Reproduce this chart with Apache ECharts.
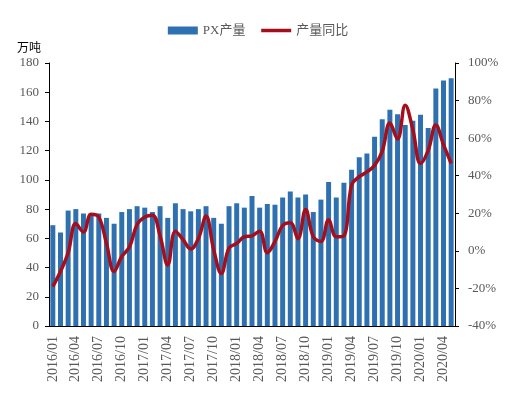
<!DOCTYPE html>
<html lang="zh">
<head>
  <meta charset="UTF-8">
  <script src="https://cdn.jsdelivr.net/npm/echarts@6.0.0/dist/echarts.min.js"></script>
  <style>
    html, body { margin: 0; padding: 0; background: #fff; }
  </style>
</head>
<body>
  <div id="main" style="width: 516px;height:404px;"></div>
  <script type="text/javascript">

    // 月份
    let months = [
      '2016/01', '2016/02', '2016/03', '2016/04', '2016/05', '2016/06', '2016/07', '2016/08', '2016/09', '2016/10', '2016/11', '2016/12',
      '2017/01', '2017/02', '2017/03', '2017/04', '2017/05', '2017/06', '2017/07', '2017/08', '2017/09', '2017/10', '2017/11', '2017/12',
      '2018/01', '2018/02', '2018/03', '2018/04', '2018/05', '2018/06', '2018/07', '2018/08', '2018/09', '2018/10', '2018/11', '2018/12',
      '2019/01', '2019/02', '2019/03', '2019/04', '2019/05', '2019/06', '2019/07', '2019/08', '2019/09', '2019/10', '2019/11', '2019/12',
      '2020/01', '2020/02', '2020/03', '2020/04', '2020/05'
    ];

    // PX产量（万吨）
    let pxOutput = [
      69, 64, 79, 80, 77, 77, 77, 74, 70, 78, 80, 82,
      81, 78, 82, 74, 84, 80, 78.5, 80, 82, 74, 70, 82,
      84, 81, 89, 81, 83.5, 83, 88, 92, 88, 90, 78, 86.5,
      98.5, 88, 98, 107, 115.5, 118, 129.5, 141.5, 148, 145, 137.5, 140.5,
      144.5, 135.5, 162.5, 168, 169.5
    ];

    // 产量同比（%）
    let yoy = [
      -19, -11, -1, 14.5, 10, 19.5, 18, 4, -11, -3, 2, 14,
      18, 19, 8, -7.5, 10.5, 6, 1, 6.5, 18.5, 0.5, -12, 1.5,
      4, 7.5, 8, 10.5, -1, 5, 13.5, 15, 6.5, 22, 7.5, 5,
      16.5, 7.5, 8, 35, 39.5, 42, 45.5, 53, 68, 59.5, 77.5, 64.5,
      46.5, 53.5, 67, 56.5, 46.5
    ];

    let serif = '"Liberation Serif", "Noto Sans CJK SC", serif';
    let labelColor = '#595959';
    let barColor = '#2F71B0';
    let lineColor = '#A50F1C';

    var myChart = echarts.init(document.getElementById('main'));
    myChart.setOption({
      animation: false,
      legend: {
        top: 19,
        left: 'center',
        itemWidth: 30,
        itemHeight: 8,
        itemGap: 14,
        textStyle: { fontFamily: serif, fontSize: 13, color: labelColor },
        data: [
          { name: 'PX产量', icon: 'rect' },
          // 图例里只留线，圆点设为透明
          { name: '产量同比', itemStyle: { opacity: 0 }, lineStyle: { width: 3.5, color: lineColor } }
        ]
      },
      grid: { left: 49, right: 61, top: 63, bottom: 78 },
      xAxis: {
        type: 'category',
        data: months,
        axisLine: { lineStyle: { color: '#000', width: 1 } },
        axisTick: { interval: 2, length: 4, lineStyle: { color: '#000' } },
        axisLabel: {
          interval: 2,
          rotate: 90,
          margin: 10,
          fontFamily: serif,
          fontSize: 14,
          color: labelColor
        }
      },
      yAxis: [
        {
          type: 'value',
          name: '万吨',
          nameLocation: 'end',
          nameGap: 10,
          nameTextStyle: { fontFamily: '"Noto Sans CJK SC", sans-serif', fontSize: 12, color: '#000', align: 'left', padding: [0, 0, 0, -32] },
          min: 0, max: 180, interval: 20,
          splitLine: { show: false },
          axisLine: { show: true, lineStyle: { color: '#000' } },
          axisTick: { show: true, length: 4, lineStyle: { color: '#000' } },
          axisLabel: { fontFamily: serif, fontSize: 13, color: labelColor, margin: 10 }
        },
        {
          type: 'value',
          min: -40, max: 100, interval: 20,
          splitLine: { show: false },
          axisLine: { show: true, lineStyle: { color: '#000' } },
          axisTick: { show: true, length: 4, lineStyle: { color: '#000' } },
          axisLabel: { fontFamily: serif, fontSize: 13, color: labelColor, formatter: '{value}%', margin: 13 }
        }
      ],
      series: [
        {
          name: 'PX产量',
          type: 'bar',
          data: pxOutput,
          barCategoryGap: '35%',
          itemStyle: { color: barColor }
        },
        {
          name: '产量同比',
          type: 'line',
          yAxisIndex: 1,
          data: yoy,
          smooth: 0.4,
          symbol: 'none',
          lineStyle: { color: lineColor, width: 3.5 },
          itemStyle: { color: lineColor }
        }
      ]
    });
  </script>
</body>
</html>
